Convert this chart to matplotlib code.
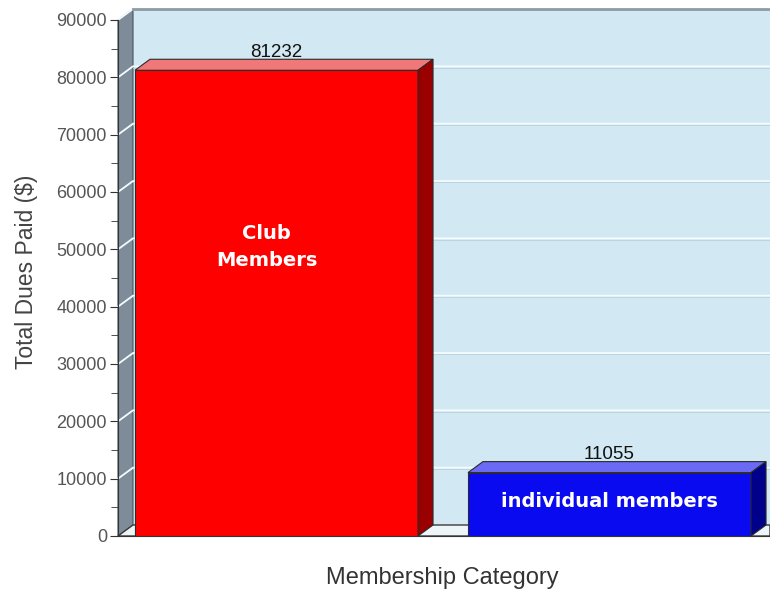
import matplotlib
matplotlib.use("Agg")
import matplotlib.pyplot as plt
from matplotlib.patches import Polygon
import numpy as np

plt.rcParams['font.family'] = ['Liberation Sans', 'DejaVu Sans']

# dues per membership category
categories = ["Club\nMembers", "individual members"]
dues = [81232, 11055]

front_colors = ["#ff0000", "#0a0af0"]
top_colors = ["#f07878", "#6a6af5"]
side_colors = ["#9a0000", "#00008a"]

fig = plt.figure(figsize=(7.7, 5.96), dpi=100)
ax = fig.add_axes([118 / 770, 60 / 596, 652 / 770, 516 / 596])

xl, xr = -0.476, 1.482
ymax = 90000
ax.set_xlim(xl, xr)
ax.set_ylim(0, ymax)

# depth offset of the 3d look, in data units
dx = 15 / 333
dy = 11 / 57.33 * 10000
width = 0.85

# back wall, left wall and floor
ax.add_patch(Polygon([(xl + dx, dy), (xr, dy), (xr, ymax + dy), (xl + dx, ymax + dy)],
                     closed=True, facecolor="#d2e8f2", edgecolor="none", zorder=0, clip_on=False))
ax.add_patch(Polygon([(xl, 0), (xl + dx, dy), (xl + dx, ymax + dy), (xl, ymax)],
                     closed=True, facecolor="#7e8c99", edgecolor="#4a545e", lw=0.8, zorder=1, clip_on=False))
ax.add_patch(Polygon([(xl, 0), (xl + dx, dy), (xr, dy), (xr, 0)],
                     closed=True, facecolor="#eef5f8", edgecolor="#3a3a3a", lw=1.0, zorder=1, clip_on=False))

# grid lines on the walls
for k in range(10000, ymax + 1, 10000):
    ax.plot([xl, xl + dx, xr], [k, k + dy, k + dy], color="#f4fcff", lw=1.3, zorder=1, clip_on=False)
    ax.plot([xl + dx, xr], [k + dy - 250, k + dy - 250], color="#b9d2dd", lw=0.6, zorder=1, clip_on=False)
ax.plot([xl + dx, xr], [ymax + dy, ymax + dy], color="#8f9ba5", lw=2, zorder=2, clip_on=False)

x = np.arange(len(dues))
ax.bar(x, dues, width=width, color=front_colors, edgecolor="#2a2a2a", lw=0.8, zorder=3)

label_frac = [0.62, 0.54]
for i, v in enumerate(dues):
    left, right = x[i] - width / 2, x[i] + width / 2
    ax.add_patch(Polygon([(left, v), (left + dx, v + dy), (right + dx, v + dy), (right, v)],
                         closed=True, facecolor=top_colors[i], edgecolor="#2a2a2a", lw=0.8, zorder=3))
    ax.add_patch(Polygon([(right, 0), (right + dx, dy), (right + dx, v + dy), (right, v)],
                         closed=True, facecolor=side_colors[i], edgecolor="#2a2a2a", lw=0.8, zorder=3))
    ax.text(x[i], v + dy - 300, str(v), ha="center", va="bottom", fontsize=13.5,
            color="#111111", zorder=4)
    xo = -0.03 if i == 0 else 0
    ax.text(x[i] + xo, v * label_frac[i], categories[i], ha="center", va="center",
            fontsize=14, fontweight="bold", color="white", family="DejaVu Sans",
            linespacing=1.5, zorder=4)

for s in ["top", "right"]:
    ax.spines[s].set_visible(False)
ax.spines["left"].set_color("#333333")
ax.spines["bottom"].set_color("#333333")
ax.spines["left"].set_zorder(5)

ax.set_xticks([])
ax.set_yticks(np.arange(0, ymax + 1, 10000))
ax.set_yticks(np.arange(5000, ymax, 10000), minor=True)
ax.tick_params(axis="y", which="major", length=6, color="#333333", labelsize=13,
               labelcolor="#555555", pad=2)
ax.tick_params(axis="y", which="minor", length=5, color="#333333")

fig.text(27 / 770, 1 - 272 / 596, "Total Dues Paid ($)", rotation=90, ha="center",
         va="center", fontsize=16.5, color="#444444")
fig.text(442 / 770, 1 - 578 / 596, "Membership Category", ha="center", va="center",
         fontsize=17, color="#333333")

fig.savefig("out.png", dpi=100)
